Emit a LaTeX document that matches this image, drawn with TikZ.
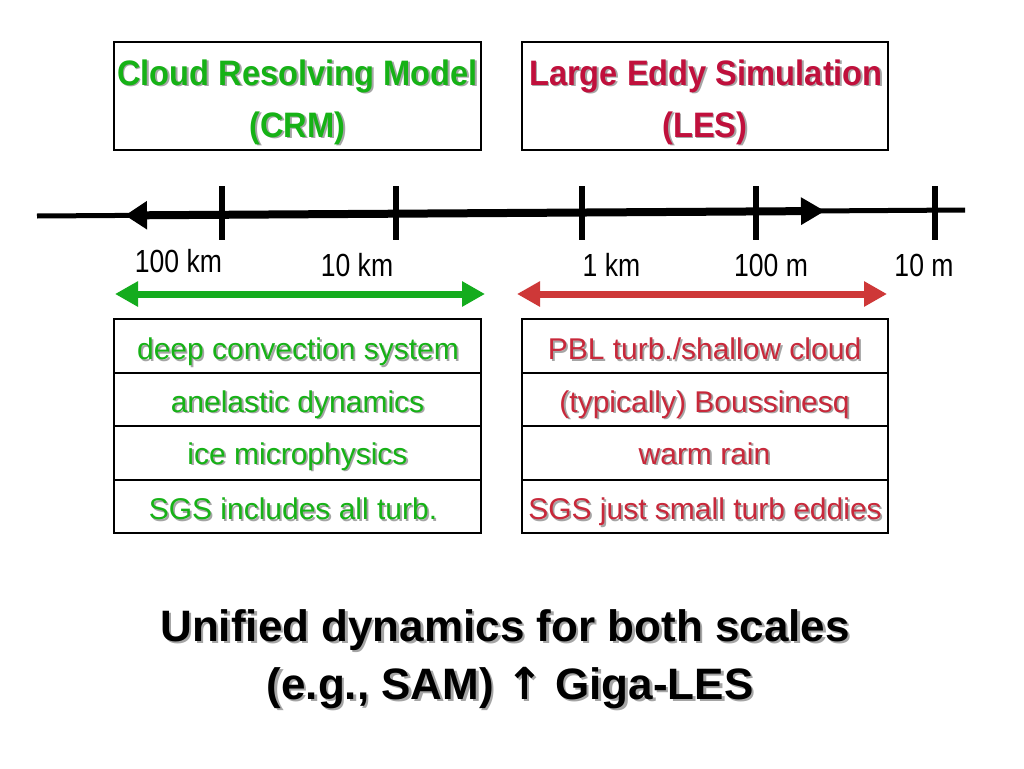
\documentclass[tikz,border=0pt]{standalone}
\usepackage{fontspec}
\setmainfont{Liberation Sans}
\newfontfamily\symfont{DejaVu Sans}
\usetikzlibrary{arrows.meta}
\definecolor{crmgreen}{RGB}{22,178,22}
\definecolor{lesred}{RGB}{192,16,60}
\definecolor{rowred}{RGB}{200,40,58}
\definecolor{shadowgray}{RGB}{165,165,165}
\definecolor{arrgreen}{RGB}{20,172,30}
\definecolor{arrred}{RGB}{206,56,56}
\newcommand\shtxt[2][1.8pt]{\leavevmode\rlap{\kern#1\raisebox{-#1}{\textcolor{shadowgray}{#2}}}#2}
\newcommand\narrow[1]{\scalebox{0.83}[1]{#1}}
\newcommand\ttl[1]{\scalebox{0.96}[1.04]{\shtxt{#1}}}
\begin{document}
\begin{tikzpicture}[x=1pt,y=-1pt,
  box/.style={draw=black, line width=2pt, minimum width=367pt, minimum height=108pt, inner sep=0pt},
  cell/.style={draw=black, line width=2pt, minimum width=366pt, minimum height=53.5pt, inner sep=0pt},
  title/.style={font=\fontsize{34}{40}\selectfont\bfseries, anchor=base, inner sep=0pt},
  rowtxt/.style={font=\fontsize{30}{36}\selectfont, anchor=base, inner sep=0pt},
  scalelbl/.style={font=\fontsize{32}{38}\selectfont, anchor=base, inner sep=0pt},
  bigtxt/.style={font=\fontsize{44}{52}\selectfont\bfseries, anchor=base, inner sep=0pt},
  ticks/.style={line width=5.5pt},
  axisline/.style={line width=5pt},
  axisthick/.style={line width=8pt, {Triangle[length=22pt,width=27pt]}-{Triangle[length=24pt,width=26pt]}},
  rangearrow/.style={line width=7pt, {Triangle[length=23pt,width=24pt]}-{Triangle[length=23pt,width=24pt]}}
]
\fill[white] (0,0) rectangle (1024,768);
\useasboundingbox (0,0) rectangle (1024,768);

% title boxes
\node[box] (crmbox) at (297.5,96) {};
\node[box, minimum width=366pt] (lesbox) at (705,96) {};
\node[title, text=crmgreen] (crm1) at (297.5,85) {\ttl{Cloud Resolving Model}};
\node[title, text=crmgreen] (crm2) at (297.5,137) {\ttl{(CRM)}};
\node[title, text=lesred] (les1) at (706,85) {\ttl{Large Eddy Simulation}};
\node[title, text=lesred] (les2) at (705,137) {\ttl{(LES)}};

% scale axis
\coordinate (axL) at (37,216);
\coordinate (axR) at (965,210);
\coordinate (tipL) at (125,215.4);
\coordinate (tipR) at (825,211);
\draw[axisline] (axL) -- (axR);
\draw[axisthick] (tipL) -- (tipR);
\foreach \x [count=\i] in {222,396,582,756,935}{
  \coordinate (tk\i a) at (\x,186);
  \coordinate (tk\i b) at (\x,240);
  \draw[ticks] (tk\i a) -- (tk\i b);
}
\node[scalelbl] (l100km) at (178.5,272) {\narrow{100 km}};
\node[scalelbl] (l10km) at (357,276) {\narrow{10 km}};
\node[scalelbl] (l1km) at (611.5,276) {\narrow{1 km}};
\node[scalelbl] (l100m) at (771,276) {\narrow{100 m}};
\node[scalelbl] (l10m) at (924,276) {\narrow{10 m}};

% range arrows
\coordinate (gL) at (115,294);
\coordinate (gR) at (485,294);
\coordinate (rL) at (517,294);
\coordinate (rR) at (887,294);
\draw[rangearrow, arrgreen] (gL) -- (gR);
\draw[rangearrow, arrred] (rL) -- (rR);

% CRM table
\node[cell, minimum width=367pt] (c1) at (297.5,345.75) {};
\node[cell, minimum width=367pt] (c2) at (297.5,399.25) {};
\node[cell, minimum width=367pt] (c3) at (297.5,452.75) {};
\node[cell, minimum width=367pt] (c4) at (297.5,506.25) {};
\node[rowtxt, text=crmgreen] (c1t) at (298,359.5) {\shtxt{deep convection system}};
\node[rowtxt, text=crmgreen] (c2t) at (297.5,412) {\shtxt{anelastic dynamics}};
\node[rowtxt, text=crmgreen] (c3t) at (297.5,464) {\shtxt{ice microphysics}};
\node[rowtxt, text=crmgreen] (c4t) at (293,519.5) {\shtxt{SGS includes all turb.}};

% LES table
\node[cell] (e1) at (704.5,345.75) {};
\node[cell] (e2) at (704.5,399.25) {};
\node[cell] (e3) at (704.5,452.75) {};
\node[cell] (e4) at (704.5,506.25) {};
\node[rowtxt, text=rowred] (e1t) at (704.5,359.5) {\shtxt{PBL turb./shallow cloud}};
\node[rowtxt, text=rowred] (e2t) at (704.5,412) {\shtxt{(typically) Boussinesq}};
\node[rowtxt, text=rowred] (e3t) at (704.5,464) {\shtxt{warm rain}};
\node[rowtxt, text=rowred] (e4t) at (705,519.5) {\shtxt{SGS just small turb eddies}};

% bottom statement
\node[bigtxt] (u1) at (505,641) {\shtxt[2.5pt]{Unified dynamics for both scales}};
\node[bigtxt] (u2) at (510,699) {\shtxt[2.5pt]{(e.g., SAM) {\symfont\bfseries ↑} Giga-LES}};
\end{tikzpicture}
\end{document}
